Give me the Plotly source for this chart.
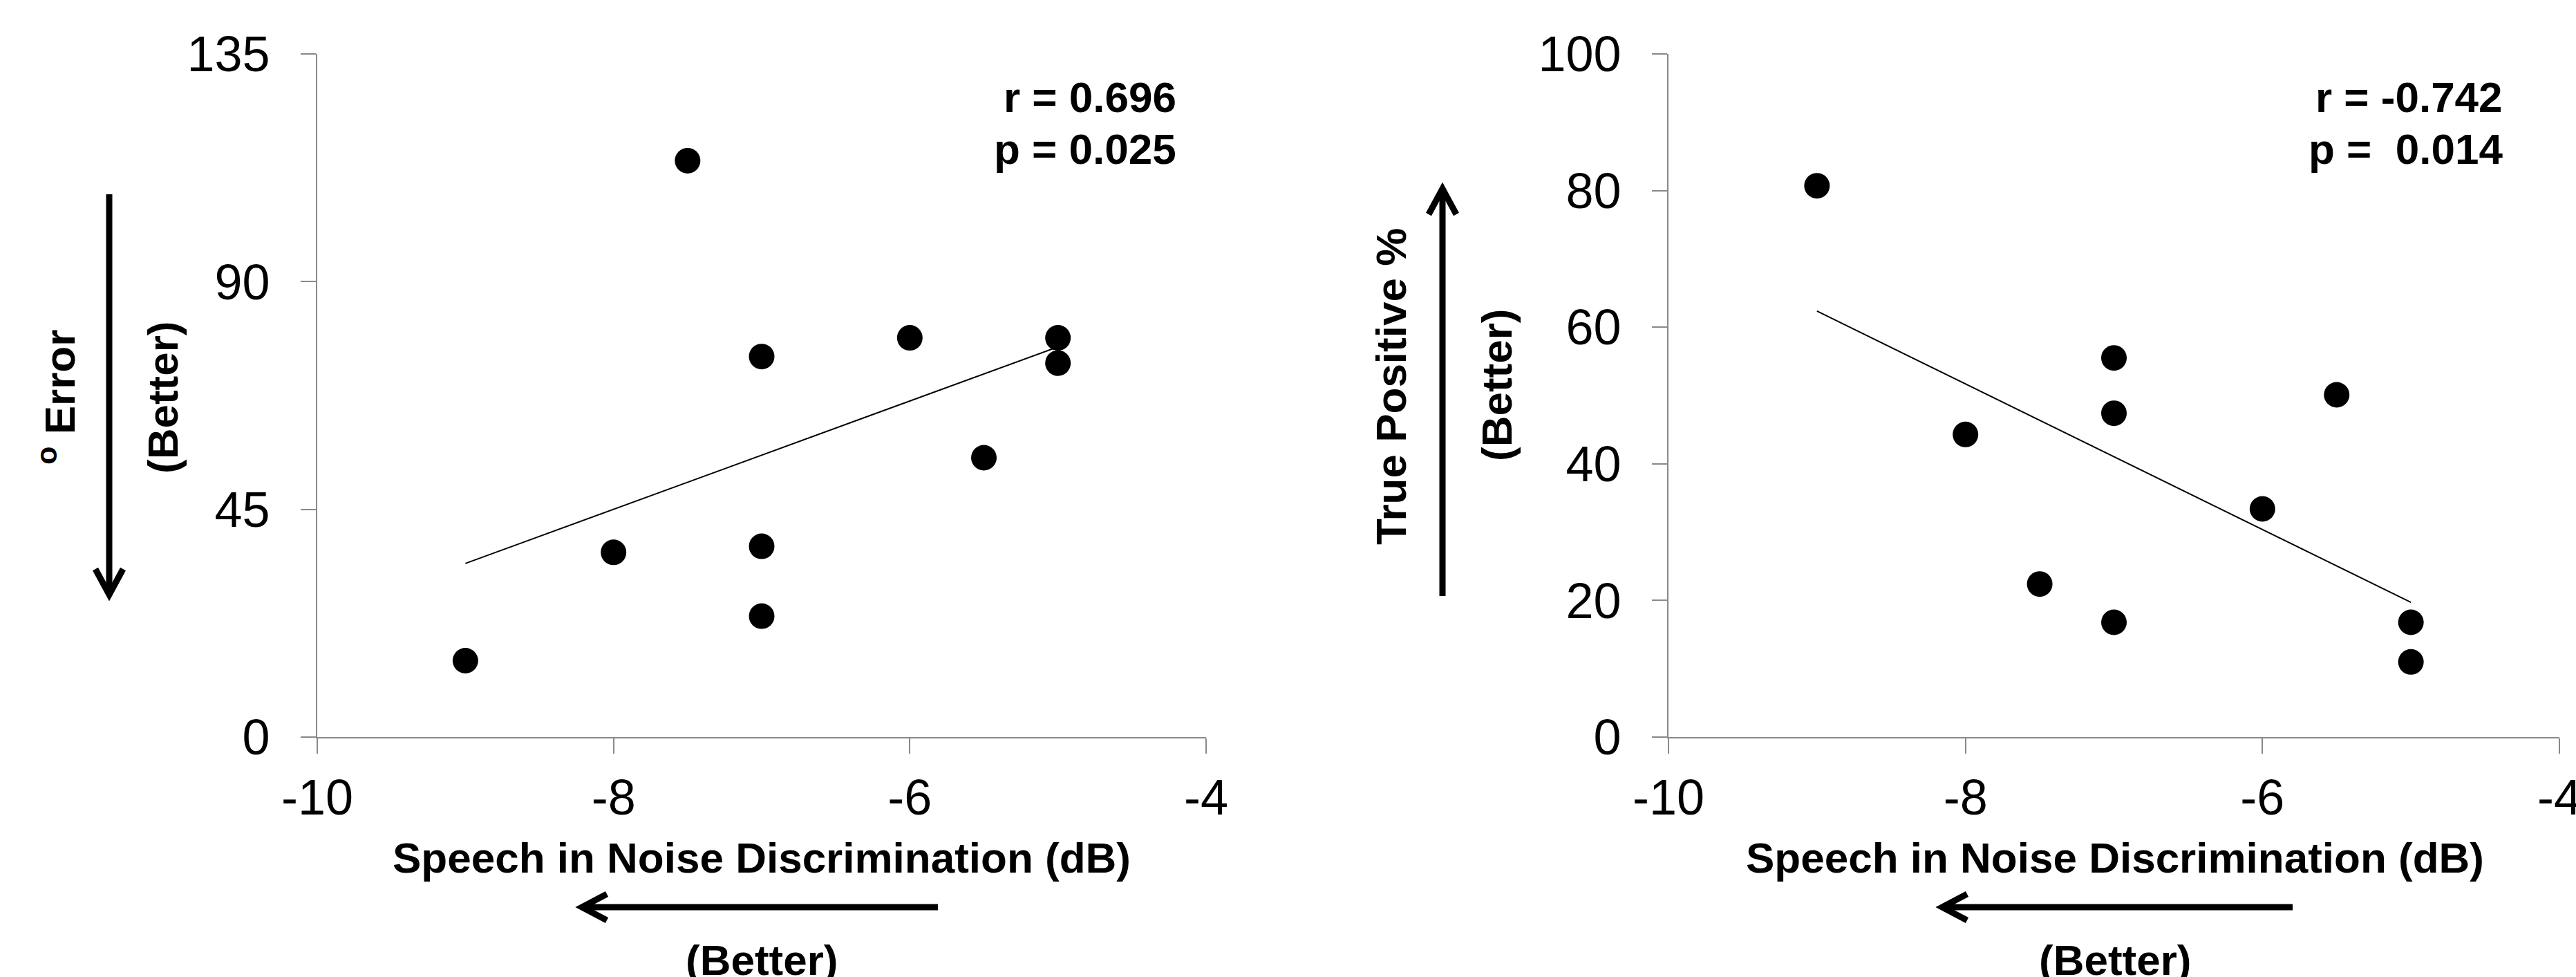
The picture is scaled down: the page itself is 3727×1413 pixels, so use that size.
import numpy as np
import plotly.graph_objects as go

W, H = 3727, 1413

# ---------------- data ----------------
snd_db_left = [-9, -7.5, -8, -7, -7, -7, -6, -5.5, -5, -5]
error_deg = [15.1, 113.9, 36.5, 75.2, 37.7, 23.9, 78.9, 55.2, 78.9, 73.9]

snd_db_right = [-9, -8, -7.5, -7, -7, -7, -6, -5.5, -5, -5]
true_pos_pct = [80.7, 44.3, 22.4, 55.5, 47.4, 16.8, 33.4, 50.1, 16.8, 11.0]

x_ticks = [-10, -8, -6, -4]
x_tick_labels = ["-10", "-8", "-6", "-4"]
left_y_ticks = [0, 45, 90, 135]
right_y_ticks = [0, 20, 40, 60, 80, 100]

stats_left = ["r = 0.696", "p = 0.025"]
stats_right = ["r = -0.742", "p =\u00a0 0.014"]

x_title = "Speech in Noise Discrimination (dB)"
better = "(Better)"
left_y_title = "<sup>o</sup> Error"
right_y_title = "True Positive %"

FONT = "Liberation Sans, Arial, sans-serif"
AXIS_GRAY = "#898989"


def trend(xs, ys):
    xs = np.asarray(xs, float)
    ys = np.asarray(ys, float)
    m, b = np.polyfit(xs, ys, 1)
    xx = np.array([xs.min(), xs.max()])
    return xx, m * xx + b


def px(x):
    return x / W


def py(y):
    return 1 - y / H


fig = go.Figure()

# left panel
fig.add_trace(go.Scatter(x=snd_db_left, y=error_deg, mode="markers",
                         marker=dict(size=37, color="black"),
                         xaxis="x", yaxis="y", showlegend=False))
tx, ty = trend(snd_db_left, error_deg)
fig.add_trace(go.Scatter(x=tx, y=ty, mode="lines",
                         line=dict(color="black", width=2),
                         xaxis="x", yaxis="y", showlegend=False))

# right panel
fig.add_trace(go.Scatter(x=snd_db_right, y=true_pos_pct, mode="markers",
                         marker=dict(size=37, color="black"),
                         xaxis="x2", yaxis="y2", showlegend=False))
tx2, ty2 = trend(snd_db_right, true_pos_pct)
fig.add_trace(go.Scatter(x=tx2, y=ty2, mode="lines",
                         line=dict(color="black", width=2),
                         xaxis="x2", yaxis="y2", showlegend=False))

axis_common = dict(showgrid=False, zeroline=False, showline=True,
                   linecolor=AXIS_GRAY, linewidth=2, ticks="outside",
                   ticklen=22, tickwidth=2, tickcolor=AXIS_GRAY,
                   automargin=False, ticklabeloverflow="allow",
                   tickfont=dict(family=FONT, size=72, color="black"))

ydom = [py(1066), py(78)]

fig.update_layout(
    width=W, height=H,
    margin=dict(l=0, r=0, t=0, b=0, autoexpand=False),
    paper_bgcolor="white", plot_bgcolor="white",
    xaxis=dict(domain=[px(459), px(1745)], range=[-10, -4], tickvals=x_ticks,
               ticktext=x_tick_labels,
               anchor="y", ticklabelstandoff=2, **axis_common),
    yaxis=dict(domain=ydom, range=[0, 135], tickvals=left_y_ticks,
               anchor="x", ticklabelstandoff=30, **axis_common),
    xaxis2=dict(domain=[px(2414), px(3703)], range=[-10, -4], tickvals=x_ticks,
                ticktext=x_tick_labels,
                anchor="y2", ticklabelstandoff=2, **axis_common),
    yaxis2=dict(domain=ydom, range=[0, 100], tickvals=right_y_ticks,
                anchor="x2", ticklabelstandoff=30, **axis_common),
)

anns = []


def ann(text, x, y, xanchor="center", angle=0, size=62):
    anns.append(dict(text="<b>" + text + "</b>", x=px(x), y=py(y),
                     xref="paper", yref="paper", showarrow=False,
                     xanchor=xanchor, yanchor="middle", textangle=angle,
                     font=dict(family=FONT, size=size, color="black")))


# left panel texts
ann(stats_left[0], 1704, 140, xanchor="right")
ann(stats_left[1], 1704, 215, xanchor="right")
ann(x_title, 1102, 1240)
ann(better, 1102, 1388)
ann(left_y_title, 82, 575, angle=-90)
ann(better, 235, 575, angle=-90)

# right panel texts
ann(stats_right[0], 3623, 140, xanchor="right")
ann(stats_right[1], 3623, 215, xanchor="right")
ann(x_title, 3060, 1240)
ann(better, 3060, 1388)
ann(right_y_title, 2012, 559, angle=-90)
ann(better, 2165, 557, angle=-90)

fig.update_layout(annotations=anns)

shapes = []


def seg(x0, y0, x1, y1, color="black", width=9):
    shapes.append(dict(type="line", xref="paper", yref="paper",
                       x0=px(x0), y0=py(y0), x1=px(x1), y1=py(y1),
                       line=dict(color=color, width=width)))


def chevron(pts):
    path = "M " + " L ".join(f"{px(a):.6f},{py(b):.6f}" for a, b in pts)
    shapes.append(dict(type="path", xref="paper", yref="paper", path=path,
                       line=dict(color="black", width=9)))


# left vertical arrow (down)
seg(158, 281, 158, 856)
chevron([(138, 823), (158, 860), (178, 823)])
# right vertical arrow (up)
seg(2087, 862, 2087, 277)
chevron([(2067, 310), (2087, 273), (2107, 310)])
# left horizontal arrow (left)
seg(1357, 1312, 846, 1312)
chevron([(878, 1293), (842, 1312), (878, 1331)])
# right horizontal arrow (left)
seg(3317, 1312, 2814, 1312)
chevron([(2846, 1293), (2810, 1312), (2846, 1331)])

fig.update_layout(shapes=shapes)

fig.write_html("out.html",
               config={"displayModeBar": False},
               post_script="document.body.style.margin='0';"
                           "document.body.style.padding='0';")
